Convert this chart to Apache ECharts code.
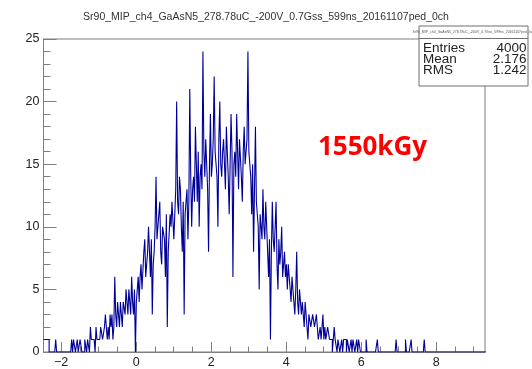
<!DOCTYPE html>
<html>
<head>
<meta charset="utf-8">
<script src="https://cdn.jsdelivr.net/npm/echarts@6/dist/echarts.min.js"></script>
<style>
  html, body { margin: 0; padding: 0; background: #fff; }
  #chart { width: 532px; height: 369px; }
</style>
</head>
<body>
<div id="chart"></div>
<script>
const histTitle = 'Sr90_MIP_ch4_GaAsN5_278.78uC_-200V_0.7Gss_599ns_20161107ped_0ch';
const doseLabel = '1550kGy';

// histogram binning (left edge of first bin, bin width)
const binStart = -2.47;
const binWidth = 0.025;

// counts per bin
const binCounts = [
  1, 1, 1, 1, 1, 1, 0, 0, 0, 0, 0, 0, 0, 1, 0, 0, 0, 0, 0, 0,
  0, 0, 0, 0, 0, 0, 0, 0, 0, 0, 1, 0, 1, 1, 0, 0, 1, 0, 0, 1,
  1, 0, 0, 0, 1, 1, 0, 1, 1, 0, 2, 1, 1, 1, 1, 0, 2, 1, 1, 1,
  1, 2, 2, 1, 1, 2, 3, 2, 1, 2, 1, 3, 2, 3, 1, 2, 6, 3, 2, 4,
  3, 2, 4, 3, 2, 4, 4, 3, 5, 4, 3, 5, 4, 3, 6, 4, 3, 5, 0, 4,
  5, 6, 4, 6, 7, 5, 5, 8, 9, 6, 7, 8, 10, 8, 6, 9, 3, 7, 8, 10,
  14, 9, 9, 11, 12, 8, 7, 10, 10, 9, 6, 11, 2, 8, 8, 11, 10, 12, 12, 9,
  9, 13, 20, 12, 11, 14, 13, 10, 8, 12, 3, 11, 11, 13, 9, 12, 21, 14, 10, 13,
  14, 12, 18, 15, 12, 16, 10, 14, 15, 13, 24, 16, 14, 17, 17, 13, 8, 15, 19, 14,
  15, 17, 22, 16, 16, 14, 10, 17, 20, 15, 14, 16, 17, 15, 13, 18, 16, 14, 11, 15,
  19, 16, 6, 15, 16, 14, 19, 16, 13, 17, 17, 14, 12, 16, 18, 15, 15, 17, 24, 16,
  16, 14, 11, 15, 8, 13, 18, 12, 12, 10, 5, 11, 11, 9, 13, 10, 9, 12, 10, 8,
  6, 9, 1, 8, 12, 9, 8, 10, 12, 7, 5, 9, 7, 8, 10, 6, 7, 8, 6, 7,
  5, 7, 7, 5, 4, 6, 6, 4, 3, 5, 8, 4, 3, 5, 5, 3, 4, 3, 2, 4,
  4, 2, 1, 3, 3, 2, 2, 3, 3, 2, 2, 3, 3, 1, 1, 2, 1, 2, 3, 1,
  2, 1, 1, 2, 2, 1, 1, 1, 0, 1, 2, 1, 1, 0, 1, 1, 0, 0, 1, 0,
  1, 1, 1, 0, 1, 1, 0, 0, 1, 0, 1, 1, 0, 0, 1, 0, 1, 1, 0, 0,
  0, 0, 0, 0, 1, 0, 0, 0, 0, 0, 0, 0, 0, 0, 0, 0, 1, 0, 0, 0,
  0, 0, 0, 0, 0, 0, 0, 0, 0, 0, 0, 0, 0, 0, 0, 0, 1, 0, 0, 0,
  0, 0, 0, 0, 0, 0, 1, 0, 0, 0, 0, 0, 1, 0, 0, 0, 0, 0, 0, 0,
  0, 0, 0, 0, 0, 0, 1, 0, 0, 0, 0, 0, 0, 0, 0, 0, 0, 0, 0, 0,
  0, 0, 0, 0, 0, 0, 0, 0, 0, 0, 0, 0, 0, 0, 0, 0, 0, 0, 0, 0,
  0, 0, 0, 0, 0, 0, 0, 0, 0, 0, 0, 0, 0, 0, 0, 0, 0, 0, 0, 0,
  0, 0, 0, 0, 0, 0, 0, 0, 0, 0, 0, 0
];

const xMajorTicks = [-2, 0, 2, 4, 6, 8];
const xMinorTicks = [-1.5, -1, -0.5, 0.5, 1, 1.5, 2.5, 3, 3.5, 4.5, 5, 5.5, 6.5, 7, 7.5, 8.5, 9];

const statNames = ['Entries', 'Mean', 'RMS'];
const statValues = ['4000', '2.176', '1.242'];

const axisGrey = '#7f7f7f';
const labelFont = 'Liberation Sans, Arial, sans-serif';

function buildStepData() {
  const points = [];
  binCounts.forEach((count, i) => {
    points.push([+(binStart + i * binWidth).toFixed(4), count]);
  });
  points.push([+(binStart + binCounts.length * binWidth).toFixed(4), binCounts[binCounts.length - 1]]);
  return points;
}

function formatMinus(value) {
  return String(value).replace('-', '\u2212');
}

function buildStatsBox() {
  const left = 419;
  const top = 26;
  const width = 109;
  const height = 60;
  const rowTop = 47.8;
  const rowStep = 11.2;

  const children = [
    {
      type: 'rect',
      shape: { x: left, y: top, width, height },
      style: { fill: '#fff', stroke: '#6f6f6f', lineWidth: 1 }
    },
    {
      type: 'line',
      shape: { x1: left, y1: 38.5, x2: left + width, y2: 38.5 },
      style: { stroke: '#6f6f6f', lineWidth: 1 }
    },
    {
      type: 'text',
      x: left + width / 2,
      y: 32,
      style: {
        text: histTitle,
        fontSize: 3.5,
        fontFamily: labelFont,
        fill: '#555',
        align: 'center',
        verticalAlign: 'middle'
      }
    }
  ];

  statNames.forEach((name, i) => {
    children.push({
      type: 'text',
      x: 423,
      y: rowTop + i * rowStep,
      style: { text: name, fontSize: 13.5, fontFamily: labelFont, fill: '#222', align: 'left', verticalAlign: 'middle' }
    });
    children.push({
      type: 'text',
      x: 526.5,
      y: rowTop + i * rowStep,
      style: { text: statValues[i], fontSize: 13.5, fontFamily: labelFont, fill: '#222', align: 'right', verticalAlign: 'middle' }
    });
  });

  return { type: 'group', z: 100, silent: true, children };
}

const chart = echarts.init(document.getElementById('chart'), null, { renderer: 'canvas' });

chart.setOption({
  backgroundColor: '#fff',
  animation: false,
  title: {
    text: histTitle,
    left: 'center',
    top: 7,
    textStyle: { fontSize: 10.5, fontWeight: 'normal', fontFamily: labelFont, color: '#333' }
  },
  grid: {
    left: 43.5,
    right: 47,
    top: 39,
    bottom: 16,
    show: true,
    borderColor: axisGrey,
    borderWidth: 1,
    backgroundColor: 'transparent'
  },
  xAxis: [
    {
      type: 'value',
      min: -2.47,
      max: 9.3,
      splitLine: { show: false },
      axisLine: { lineStyle: { color: axisGrey } },
      axisTick: { inside: true, length: 10, customValues: xMajorTicks, lineStyle: { color: axisGrey } },
      axisLabel: {
        customValues: xMajorTicks,
        formatter: formatMinus,
        margin: 4,
        fontSize: 12.5,
        fontFamily: labelFont,
        color: '#222'
      }
    },
    {
      type: 'value',
      min: -2.47,
      max: 9.3,
      position: 'bottom',
      splitLine: { show: false },
      axisLine: { show: false },
      axisTick: { inside: true, length: 5.5, customValues: xMinorTicks, lineStyle: { color: axisGrey } },
      axisLabel: { show: false }
    }
  ],
  yAxis: {
    type: 'value',
    min: 0,
    max: 25,
    interval: 5,
    splitLine: { show: false },
    axisLine: { show: true, onZero: false, lineStyle: { color: axisGrey } },
    axisTick: { inside: true, length: 13, lineStyle: { color: axisGrey } },
    minorTick: { show: true, splitNumber: 5, length: 7, lineStyle: { color: axisGrey } },
    axisLabel: { margin: 4, fontSize: 12.5, fontFamily: labelFont, color: '#222' }
  },
  series: [
    {
      type: 'line',
      step: 'end',
      xAxisIndex: 0,
      showSymbol: false,
      symbol: 'none',
      clip: true,
      lineStyle: { color: '#000099', width: 1.1 },
      data: buildStepData()
    }
  ],
  graphic: [
    buildStatsBox(),
    {
      type: 'text',
      x: 372.5,
      y: 148,
      z: 100,
      silent: true,
      style: {
        text: doseLabel,
        fontSize: 26,
        fontWeight: 'bold',
        fontFamily: 'Open Sans, Liberation Sans, sans-serif',
        fill: '#ff0000',
        align: 'center',
        verticalAlign: 'middle'
      }
    }
  ]
});
</script>
</body>
</html>
